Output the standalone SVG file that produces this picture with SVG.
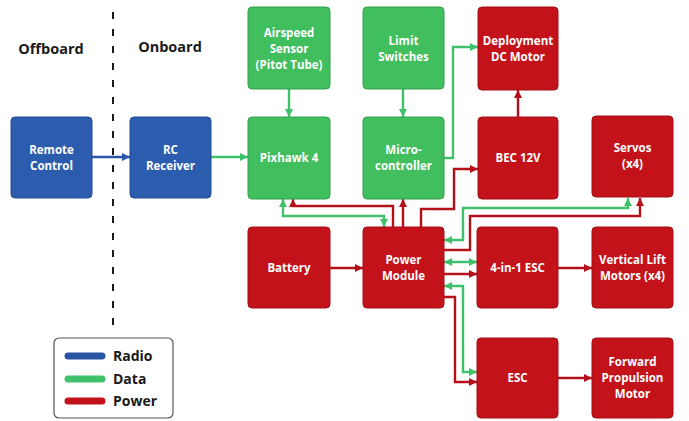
<svg xmlns="http://www.w3.org/2000/svg" width="689" height="421" viewBox="0 0 689 421">
<defs>
<style>
.box{stroke-width:1}
.blue{fill:#2B5CAD;stroke:#234d94}
.green{fill:#41BE5E;stroke:#33a04d}
.red{fill:#C4121A;stroke:#a40e14}
.lbl{font-family:"Open Sans","Liberation Sans",sans-serif;font-weight:bold;font-size:11.5px;fill:#ffffff;text-anchor:middle}
.hdr{font-family:"Open Sans","Liberation Sans",sans-serif;font-weight:bold;font-size:14.5px;fill:#1a1a1a;text-anchor:middle}
.leg{font-family:"Open Sans","Liberation Sans",sans-serif;font-weight:bold;font-size:14px;fill:#1a1a1a}
.c{fill:none;stroke-width:2.4;stroke-linejoin:miter}
.cb{stroke:#2a55a5;marker-end:url(#ab)}
.cg{stroke:#3fc06a;marker-end:url(#ag)}
.cg2{stroke:#3fc06a;marker-end:url(#ag);marker-start:url(#ag)}
.cr{stroke:#b5101a;marker-end:url(#ar)}
</style>
<marker id="ab" markerUnits="userSpaceOnUse" markerWidth="9" markerHeight="9" refX="8" refY="4" orient="auto-start-reverse"><path d="M0,0 L8,4 L0,8 z" fill="#2a55a5"/></marker>
<marker id="ag" markerUnits="userSpaceOnUse" markerWidth="9" markerHeight="9" refX="8" refY="4" orient="auto-start-reverse"><path d="M0,0 L8,4 L0,8 z" fill="#3fc06a"/></marker>
<marker id="ar" markerUnits="userSpaceOnUse" markerWidth="9" markerHeight="9" refX="8" refY="4" orient="auto-start-reverse"><path d="M0,0 L8,4 L0,8 z" fill="#b5101a"/></marker>
</defs>
<rect width="689" height="421" fill="#ffffff"/>

<text class="hdr" x="51" y="54">Offboard</text>
<text class="hdr" x="170" y="52">Onboard</text>
<line x1="113" y1="12" x2="113" y2="332" stroke="#1a1a1a" stroke-width="2" stroke-dasharray="7,10"/>

<g id="connectors">
<path class="c cb" d="M92,157 H130"/>
<path class="c cg" d="M211,157 H248"/>
<path class="c cg" d="M289,89 V117"/>
<path class="c cg" d="M403,89 V117"/>
<path class="c cg" d="M444,158 H453 V47 H478"/>
<path class="c cr" d="M518,117 V90"/>
<path class="c cr" d="M421,227 V209 H454 V169 H478"/>
<path class="c cr" d="M403,227 V199"/>
<path class="c cr" d="M393,227 V206 H293 V199"/>
<path class="c cg2" d="M283,199 V216 H384 V227"/>
<path class="c cg2" d="M444,240 H463 V208 H628 V198"/>
<path class="c cr" d="M444,250 H470 V216 H640 V198"/>
<path class="c cg2" d="M444,262 H477"/>
<path class="c cr" d="M444,274 H477"/>
<path class="c cr" d="M558,268 H592"/>
<path class="c cg2" d="M444,286 H463 V372 H477"/>
<path class="c cr" d="M444,297 H455 V382 H477"/>
<path class="c cr" d="M558,378 H592"/>
<path class="c cr" d="M330,268 H363"/>
</g>

<g id="remote-control"><rect class="box blue" x="11" y="117" width="81" height="81" rx="4"/><text class="lbl" x="51.5" y="154">Remote</text><text class="lbl" x="51.5" y="170">Control</text></g>
<g id="rc-receiver"><rect class="box blue" x="130" y="117" width="81" height="81" rx="4"/><text class="lbl" x="170.5" y="154">RC</text><text class="lbl" x="170.5" y="170">Receiver</text></g>
<g id="airspeed"><rect class="box green" x="248" y="7" width="82" height="82" rx="4"/><text class="lbl" x="289" y="37">Airspeed</text><text class="lbl" x="289" y="53">Sensor</text><text class="lbl" x="289" y="69">(Pitot Tube)</text></g>
<g id="limit-switches"><rect class="box green" x="363" y="7" width="81" height="82" rx="4"/><text class="lbl" x="403.5" y="45">Limit</text><text class="lbl" x="403.5" y="61">Switches</text></g>
<g id="deployment-motor"><rect class="box red" x="478" y="7" width="80" height="83" rx="4"/><text class="lbl" x="518" y="45">Deployment</text><text class="lbl" x="518" y="61">DC Motor</text></g>
<g id="pixhawk"><rect class="box green" x="248" y="117" width="82" height="82" rx="4"/><text class="lbl" x="289" y="162">Pixhawk 4</text></g>
<g id="microcontroller"><rect class="box green" x="363" y="117" width="81" height="82" rx="4"/><text class="lbl" x="403.5" y="154">Micro-</text><text class="lbl" x="403.5" y="170">controller</text></g>
<g id="bec"><rect class="box red" x="478" y="117" width="80" height="82" rx="4"/><text class="lbl" x="518" y="162">BEC 12V</text></g>
<g id="servos"><rect class="box red" x="592" y="116" width="81" height="81" rx="4"/><text class="lbl" x="632.5" y="152">Servos</text><text class="lbl" x="632.5" y="168">(x4)</text></g>
<g id="battery"><rect class="box red" x="248" y="227" width="82" height="81" rx="4"/><text class="lbl" x="289" y="272">Battery</text></g>
<g id="power-module"><rect class="box red" x="363" y="227" width="81" height="81" rx="4"/><text class="lbl" x="403.5" y="264">Power</text><text class="lbl" x="403.5" y="280">Module</text></g>
<g id="esc-4in1"><rect class="box red" x="477" y="227" width="81" height="81" rx="4"/><text class="lbl" x="517.5" y="272">4-in-1 ESC</text></g>
<g id="vertical-lift"><rect class="box red" x="592" y="227" width="81" height="81" rx="4"/><text class="lbl" x="632.5" y="264">Vertical Lift</text><text class="lbl" x="632.5" y="280">Motors (x4)</text></g>
<g id="esc"><rect class="box red" x="477" y="338" width="81" height="80" rx="4"/><text class="lbl" x="517.5" y="382">ESC</text></g>
<g id="forward-motor"><rect class="box red" x="592" y="338" width="81" height="80" rx="4"/><text class="lbl" x="632.5" y="366">Forward</text><text class="lbl" x="632.5" y="382">Propulsion</text><text class="lbl" x="632.5" y="398">Motor</text></g>

<g id="legend">
<rect x="54" y="338" width="119" height="80" rx="5" fill="#ffffff" stroke="#555555" stroke-width="1.2"/>
<line x1="68" y1="356" x2="102" y2="356" stroke="#2a55a5" stroke-width="7" stroke-linecap="round"/>
<line x1="68" y1="379" x2="102" y2="379" stroke="#3fc06a" stroke-width="7" stroke-linecap="round"/>
<line x1="68" y1="401" x2="102" y2="401" stroke="#c4121a" stroke-width="7" stroke-linecap="round"/>
<text class="leg" x="113" y="361">Radio</text>
<text class="leg" x="113" y="384">Data</text>
<text class="leg" x="113" y="406">Power</text>
</g>
</svg>
